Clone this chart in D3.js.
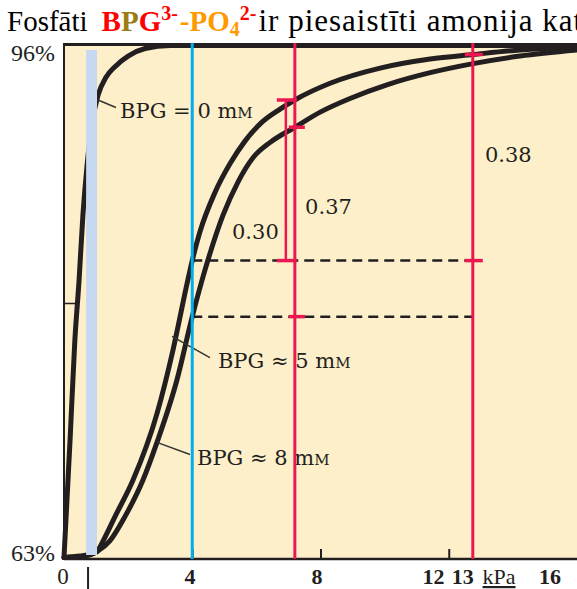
<!DOCTYPE html>
<html>
<head>
<meta charset="utf-8">
<script src="https://cdn.jsdelivr.net/npm/d3@7"></script>
<style>
	body { margin: 0; background: #fff; }
	svg { display: block; }
</style>
</head>
<body>
<script>
// Līknes: spiediens (kPa) un piesātinājums (%)
const kpaBpg0 = [0, 0.19, 0.34, 0.47, 0.59, 0.72, 0.87, 1.06, 1.31, 1.59, 2.0, 2.53, 3.31, 4.24, 16]
const satBpg0 = [62.7, 70.5, 77.1, 81.0, 85.3, 88.6, 91.3, 93.2, 94.4, 95.1, 95.8, 96.3, 96.5, 96.5, 96.5]
const kpaBpg5 = [0, 0.5, 0.81, 1.03, 1.22, 1.59, 2.15, 2.9, 3.4, 3.84, 4.0, 4.24, 4.71, 5.18, 5.65, 6.21, 6.74, 7.2, 8.3, 9.86, 11.42, 12.76, 14.22, 16]
const satBpg5 = [62.7, 62.8, 62.9, 63.1, 63.8, 65.4, 67.8, 72.2, 76.4, 80.8, 82.3, 84.2, 86.8, 88.7, 90.2, 91.5, 92.3, 92.9, 94.0, 95.0, 95.6, 95.9, 96.2, 96.4]
const kpaBpg8 = [0, 0.66, 1.03, 1.43, 1.9, 2.46, 2.9, 3.52, 4.0, 4.4, 4.96, 5.43, 5.9, 6.43, 7.2, 7.99, 8.92, 10.07, 11.42, 12.76, 14.22, 16]
const satBpg8 = [62.7, 62.8, 63.1, 63.8, 65.4, 67.8, 70.3, 74.4, 78.6, 81.7, 85.3, 87.5, 89.1, 90.1, 91.1, 92.1, 93.0, 93.9, 94.7, 95.3, 95.8, 96.2]

// atzīmes uz asīm
const xTickValues = [4, 8, 12]
const xLabelValues = [0, 4, 8, 12, 13, 16]
const yTickValues = [79.5]
const yLabelValues = [63, 96]

// vertikālās līnijas, zilā josla, pārtrauktās līnijas
const bandKpa = [0.69, 1.03]
const bluePressure = 4
const redPressures = [7.2, 12.75]
const dashLevels = [82.3, 78.6]
const bracketLevels = [82.3, 92.9]
const red1Ticks = [78.6, 91.1]
const red2Ticks = [82.3, 95.9]
const diffLabels = ['0.30', '0.37', '0.38']

const width = 577
const height = 589
const frame = { left: 64, top: 44, bottom: 559, right: 580 }

const svg = d3.select('body').append('svg')
	.attr('width', width)
	.attr('height', height)

const x = d3.scaleLinear().domain([0, 16]).range([frame.left, 577])
const y = d3.scaleLinear().domain([63, 96]).range([553, 53])
const xLab = d3.scaleLinear().domain([0, 8, 16]).range([63, 317, 550]) // uzraksti nav tieši zem atzīmēm

const ink = '#231f20'
const red = '#ec1751'
const blue = '#00aeef'

// fons
svg.append('rect')
	.attr('x', frame.left).attr('y', frame.top)
	.attr('width', frame.right - frame.left).attr('height', frame.bottom - frame.top)
	.attr('fill', '#fdefc9')

// līknes
const line = d3.line().x(d => x(d[0])).y(d => y(d[1])).curve(d3.curveMonotoneX)
const curves = [d3.zip(kpaBpg0, satBpg0), d3.zip(kpaBpg5, satBpg5), d3.zip(kpaBpg8, satBpg8)]
svg.append('g').selectAll('path')
	.data(curves)
	.join('path')
	.attr('d', line)
	.attr('fill', 'none')
	.attr('stroke', ink)
	.attr('stroke-width', 5)
	.attr('stroke-linecap', 'round')

// zilā josla
svg.append('rect')
	.attr('x', x(bandKpa[0])).attr('y', 50)
	.attr('width', x(bandKpa[1]) - x(bandKpa[0])).attr('height', 505)
	.attr('fill', '#c7d9f0')

// rāmis
svg.append('line').attr('x1', frame.left).attr('x2', frame.right).attr('y1', 44.5).attr('y2', 44.5)
	.attr('stroke', ink).attr('stroke-width', 3)
svg.append('line').attr('x1', frame.left).attr('x2', frame.left).attr('y1', 43).attr('y2', 560)
	.attr('stroke', ink).attr('stroke-width', 2)

// x ass
const gx = svg.append('g').attr('transform', `translate(0,${frame.bottom})`)
	.call(d3.axisBottom(x).tickValues(xTickValues).tickSize(-10).tickFormat(''))
gx.select('.domain').remove()
gx.selectAll('.tick line').attr('stroke', ink).attr('stroke-width', 2)
svg.append('line').attr('x1', frame.left).attr('x2', frame.right).attr('y1', frame.bottom).attr('y2', frame.bottom)
	.attr('stroke', ink).attr('stroke-width', 2.5)

svg.append('g').selectAll('text')
	.data(xLabelValues)
	.join('text')
	.attr('x', d => xLab(d))
	.attr('y', 584)
	.attr('text-anchor', 'middle')
	.attr('font-family', 'Liberation Serif')
	.attr('font-size', d => d === 0 ? 23 : 22)
	.attr('font-weight', d => d === 0 ? 'normal' : 'bold')
	.attr('fill', ink)
	.text(d => d)

svg.append('text')
	.attr('x', xLab(14.25)).attr('y', 584)
	.attr('text-anchor', 'middle')
	.attr('font-family', 'Liberation Serif')
	.attr('font-size', 22)
	.attr('text-decoration', 'underline')
	.attr('fill', ink)
	.text('kPa')

svg.append('line')
	.attr('x1', x(0.75)).attr('x2', x(0.75)).attr('y1', 567).attr('y2', 589)
	.attr('stroke', ink).attr('stroke-width', 2)

// y ass
const gy = svg.append('g').attr('transform', `translate(${frame.left},0)`)
	.call(d3.axisLeft(y).tickValues(yTickValues).tickSize(-13).tickFormat(''))
gy.select('.domain').remove()
gy.selectAll('.tick line').attr('stroke', ink).attr('stroke-width', 1.5)

svg.append('g').selectAll('text')
	.data(yLabelValues)
	.join('text')
	.attr('x', 55)
	.attr('y', d => y(d))
	.attr('dy', '0.35em')
	.attr('text-anchor', 'end')
	.attr('font-family', 'Liberation Serif')
	.attr('font-size', 24)
	.attr('fill', ink)
	.text(d => d + '%')

// pārtrauktās līnijas
svg.append('g').selectAll('line')
	.data(dashLevels)
	.join('line')
	.attr('x1', x(bluePressure)).attr('x2', x(redPressures[1]))
	.attr('y1', d => y(d)).attr('y2', d => y(d))
	.attr('stroke', ink)
	.attr('stroke-width', 2.5)
	.attr('stroke-dasharray', '10,6')

// uzraksti pie līknēm
const notes = [
	{ from: [1.06, 92.9], to: [1.62, 92.4], at: [1.75, 91.7], text: 'BPG = 0 m' },
	{ from: [3.37, 77.3], to: [4.55, 75.9], at: [4.8, 75.2], text: 'BPG ≈ 5 m' },
	{ from: [2.9, 70.3], to: [3.93, 69.5], at: [4.15, 68.8], text: 'BPG ≈ 8 m' }
]
svg.append('g').selectAll('line')
	.data(notes)
	.join('line')
	.attr('x1', d => x(d.from[0])).attr('y1', d => y(d.from[1]))
	.attr('x2', d => x(d.to[0])).attr('y2', d => y(d.to[1]))
	.attr('stroke', '#333')
	.attr('stroke-width', 1.5)

const noteText = svg.append('g').selectAll('text')
	.data(notes)
	.join('text')
	.attr('x', d => x(d.at[0])).attr('y', d => y(d.at[1]))
	.attr('font-family', 'DejaVu Serif')
	.attr('font-size', 21)
	.attr('fill', ink)
	.text(d => d.text)
noteText.append('tspan').attr('font-size', 15).text('M') // mM ar mazo M

// starpību uzraksti
const diffPos = [[5.24, 83.7], [7.52, 85.4], [13.13, 88.8]]
svg.append('g').selectAll('text')
	.data(diffLabels)
	.join('text')
	.attr('x', (d, i) => x(diffPos[i][0]))
	.attr('y', (d, i) => y(diffPos[i][1]))
	.attr('font-family', 'DejaVu Serif')
	.attr('font-size', 21)
	.attr('fill', ink)
	.text(d => d)

// zilā un sarkanās līnijas
svg.append('line')
	.attr('x1', x(bluePressure)).attr('x2', x(bluePressure))
	.attr('y1', 43).attr('y2', frame.bottom)
	.attr('stroke', blue).attr('stroke-width', 3)

svg.append('g').selectAll('line')
	.data(redPressures)
	.join('line')
	.attr('x1', d => x(d)).attr('x2', d => x(d))
	.attr('y1', 43).attr('y2', frame.bottom)
	.attr('stroke', red).attr('stroke-width', 3)

// kļūdu iekava pie pirmās sarkanās līnijas
const bx = x(redPressures[0]) - 9
svg.append('line')
	.attr('x1', bx).attr('x2', bx)
	.attr('y1', y(bracketLevels[0])).attr('y2', y(bracketLevels[1]))
	.attr('stroke', red).attr('stroke-width', 2.5)

function tick(cx, level, half) {
	svg.append('line')
		.attr('x1', cx - half).attr('x2', cx + half)
		.attr('y1', y(level)).attr('y2', y(level))
		.attr('stroke', red).attr('stroke-width', 3.5)
}
bracketLevels.forEach(v => tick(bx + 1, v, 10))
red1Ticks.forEach(v => tick(x(redPressures[0]) + 2, v, 8))
red2Ticks.forEach(v => tick(x(redPressures[1]) + 1, v, 9))

// virsraksts
const title = svg.append('text')
	.attr('x', 7).attr('y', 31)
	.attr('font-family', 'Liberation Serif')
	.attr('font-size', 29)
	.attr('fill', '#000')
title.append('tspan').text('Fosfāti')
title.append('tspan').attr('dx', 14).attr('font-weight', 'bold').attr('fill', '#ff0000').text('B')
title.append('tspan').attr('font-weight', 'bold').attr('fill', '#9c7c14').text('P')
title.append('tspan').attr('font-weight', 'bold').attr('fill', '#ff0000').text('G')
title.append('tspan').attr('font-weight', 'bold').attr('fill', '#ff0000').attr('font-size', 20).attr('dy', -11).text('3-')
title.append('tspan').attr('font-weight', 'bold').attr('fill', '#ff9900').attr('dy', 11).attr('dx', 2).text('-PO')
title.append('tspan').attr('font-weight', 'bold').attr('fill', '#ff9900').attr('font-size', 20).attr('dy', 5).text('4')
title.append('tspan').attr('font-weight', 'bold').attr('fill', '#ff0000').attr('font-size', 20).attr('dy', -16).text('2-')
title.append('tspan').attr('dy', 11).attr('dx', 2).attr('font-size', 31).attr('letter-spacing', 1).text('ir piesaistīti amonija katjoniem')
</script>
</body>
</html>
